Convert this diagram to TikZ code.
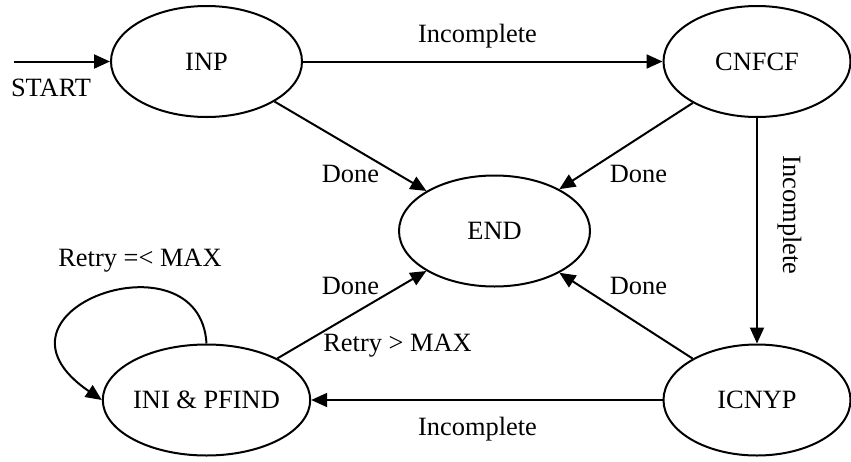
\documentclass[tikz,border=0pt]{standalone}
\usepackage{fontspec}
\setmainfont{Liberation Serif}
\usetikzlibrary{shapes.geometric,arrows.meta}
\begin{document}
\begin{tikzpicture}[x=1pt,y=-1pt,
  state/.style={ellipse,draw,line width=2pt,minimum width=191pt,minimum height=111pt,inner sep=0pt,font=\fontsize{26.4}{31}\selectfont},
  narrow/.style={state,minimum width=187pt},
  lbl/.style={font=\fontsize{26.4}{31}\selectfont,inner sep=0pt,anchor=base},
  arr/.style={-{Triangle[length=16pt,width=14pt]},line width=2pt}]
\useasboundingbox[fill=white] (0,0) rectangle (851,461);
\node[state] (inp) at (206.5,61.5) {INP};
\node[narrow] (cnfcf) at (757,61.5) {CNFCF};
\node[state] (end) at (494.5,231) {END};
\node[state] (ini) at (206.5,400) {INI \& PFIND};
\node[narrow] (icnyp) at (757,400) {ICNYP};
\coordinate (st) at (14,61.5);
\draw[arr] (st) -- (inp);
\draw[arr] (inp) -- (cnfcf);
\draw[arr] (inp) -- (end);
\draw[arr] (cnfcf) -- (end);
\draw[arr] (cnfcf) -- (icnyp);
\draw[arr] (icnyp) -- (end);
\draw[arr] (ini) -- (end);
\draw[arr] (icnyp) -- (ini);
\draw[arr] (ini.north) .. controls (200,230) and (-30,310) .. (ini.west);
\node[lbl] (tstart) at (51,96) {START};
\node[lbl] (t1) at (477.5,42) {Incomplete};
\node[lbl] (t2) at (350.5,182) {Done};
\node[lbl] (t3) at (638.5,182) {Done};
\node[lbl,rotate=-90] (t4) at (783,215) {Incomplete};
\node[lbl] (t5) at (140,266) {Retry =< MAX};
\node[lbl] (t6) at (350.5,294) {Done};
\node[lbl] (t7) at (638.5,294) {Done};
\node[lbl] (t8) at (397.5,351) {Retry > MAX};
\node[lbl] (t9) at (477.5,435) {Incomplete};
\end{tikzpicture}
\end{document}
